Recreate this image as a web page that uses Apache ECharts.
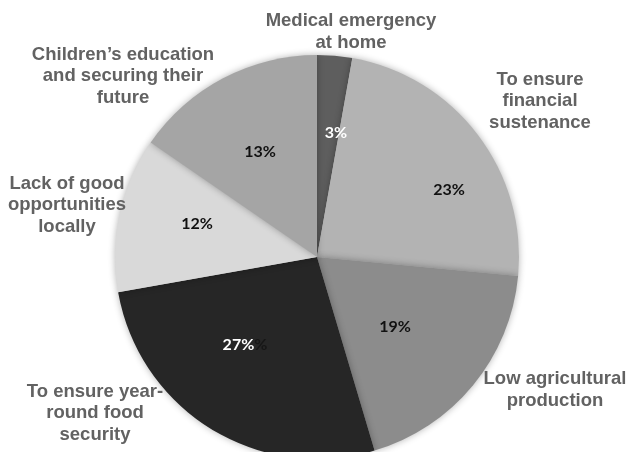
<!DOCTYPE html>
<html>
<head>
<meta charset="utf-8">
<script src="https://cdn.jsdelivr.net/npm/echarts@6/dist/echarts.min.js"></script>
<style>
html,body{margin:0;padding:0;background:#fff;}
#chart{width:628px;height:452px;}
</style>
</head>
<body>
<div id="chart"></div>
<script>
// Data
var categories = [
  "Medical emergency\nat home",
  "To ensure\nfinancial\nsustenance",
  "Low agricultural\nproduction",
  "To ensure year-\nround food\nsecurity",
  "Lack of good\nopportunities\nlocally",
  "Children\u2019s education\nand securing their\nfuture"
];
// slice sizes as drawn (angles measured on the picture)
var values = [2.8, 23.7, 18.9, 26.8, 12.4, 15.4];
// percentages printed on the slices
var printedPct = [3, 23, 19, 27, 12, 13];

// styles
var colors = ["#5e5e5e", "#b3b3b3", "#8c8c8c", "#262626", "#d9d9d9", "#a5a5a5"];
var innerTextColors = ["#ffffff", "#111111", "#111111", "#ffffff", "#111111", "#111111"];
// label placement (pixels)
var outerPos = [[351, 32], [540, 101], [555, 390], [95, 413], [67, 205], [123, 76]];
var innerPos = [[336, 133], [449, 190], [395, 327], [245, 345], [197, 224], [260, 152]];

var center = [317, 257];
var radius = 202;

var chart = echarts.init(document.getElementById('chart'), null, {renderer: 'canvas'});

var mainData = categories.map(function (c, i) {
  return {
    name: c,
    value: values[i],
    itemStyle: {color: colors[i]},
    label: {color: innerTextColors[i]}
  };
});
var overlayData = categories.map(function (c, i) {
  return {name: c, value: values[i]};
});

chart.setOption({
  animation: false,
  backgroundColor: '#ffffff',
  series: [
    {
      type: 'pie',
      center: center,
      radius: radius,
      startAngle: 90,
      clockwise: true,
      data: mainData,
      silent: true,
      itemStyle: {
        borderWidth: 0,
        shadowBlur: 7,
        shadowColor: 'rgba(0,0,0,0.3)'
      },
      label: {
        show: true,
        position: 'inside',
        fontFamily: 'Lato, "Liberation Sans", sans-serif',
        fontWeight: 'bold',
        fontSize: 16,
        overflow: 'none',
        formatter: function (p) {
          var t = printedPct[p.dataIndex] + '%';
          if (p.dataIndex === 3) return '{a|' + t + '}{b|%}';
          return t;
        },
        rich: {
          a: {color: '#ffffff', fontFamily: 'Lato, sans-serif', fontWeight: 'bold', fontSize: 16},
          b: {color: '#161616', fontFamily: 'Lato, sans-serif', fontWeight: 'bold', fontSize: 16}
        }
      },
      labelLine: {show: false},
      labelLayout: function (p) {
        var pos = innerPos[p.dataIndex];
        return {x: pos[0], y: pos[1], align: 'center', verticalAlign: 'middle'};
      }
    },
    {
      type: 'pie',
      center: center,
      radius: radius,
      startAngle: 90,
      clockwise: true,
      data: overlayData,
      silent: true,
      itemStyle: {color: 'rgba(0,0,0,0)', borderWidth: 0},
      label: {
        show: true,
        position: 'outside',
        alignTo: 'none',
        overflow: 'none',
        width: 400,
        color: '#626262',
        fontFamily: '"Liberation Sans", Arial, sans-serif',
        fontWeight: 'bold',
        fontSize: 18.5,
        lineHeight: 21.5,
        align: 'center',
        formatter: function (p) { return categories[p.dataIndex]; }
      },
      labelLine: {show: false},
      labelLayout: function (p) {
        var pos = outerPos[p.dataIndex];
        return {x: pos[0], y: pos[1], align: 'center', verticalAlign: 'middle'};
      }
    }
  ]
});
</script>
</body>
</html>
